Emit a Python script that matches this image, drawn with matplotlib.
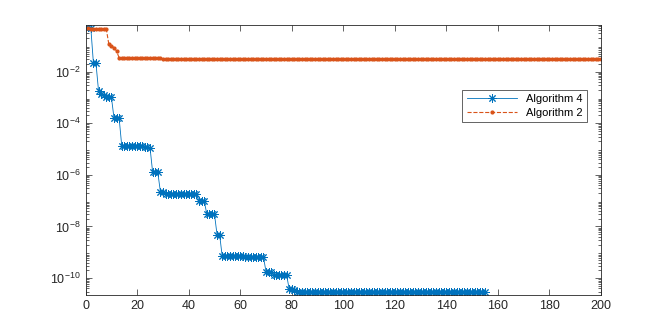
import matplotlib
matplotlib.use("Agg")
import matplotlib.pyplot as plt
from matplotlib.ticker import LogLocator, NullFormatter, FixedLocator

plt.rcParams['font.family'] = ['Liberation Sans', 'DejaVu Sans']

# Algorithm 4 (blue), one value per iteration 1..155
alg4 = ([0.55, 0.5, 0.022, 0.021, 1.8e-3, 1.3e-3, 1.2e-3, 1.05e-3, 1.0e-3, 1.0e-3,
         1.6e-4, 1.6e-4, 1.55e-4]
        + [1.35e-5] * 9 + [1.2e-5, 1.15e-5, 1.1e-5]
        + [1.27e-6, 1.27e-6, 1.25e-6, 2.25e-7, 2.2e-7]
        + [1.8e-7] * 13 + [1.0e-7, 1.0e-7, 1.0e-7]
        + [3.1e-8, 3.1e-8, 3.0e-8, 3.0e-8, 4.8e-9, 4.8e-9]
        + [7e-10] * 9 + [6.6e-10] * 8
        + [1.8e-10, 1.8e-10, 1.75e-10] + [1.35e-10] * 6
        + [3.7e-11, 3.7e-11, 3.6e-11] + [2.78e-11] * 74)
# Algorithm 2 (orange), one value per iteration 1..200
alg2 = ([0.5] + [0.45] * 7 + [0.115, 0.1, 0.085, 0.063]
        + [0.034] * 17 + [0.03] + [0.0315] * 170)

it4 = list(range(1, len(alg4) + 1))
it2 = list(range(1, len(alg2) + 1))

fig = plt.figure(figsize=(6.64, 3.32), dpi=100)
ax = fig.add_axes([0.129, 0.111, 0.776, 0.814])

blue = '#0072BD'
orange = '#D95319'
# matlab-like asterisk marker
ax.plot(it4, alg4, '-', color=blue, marker=(8, 2, 0), markersize=6, linewidth=0.6,
        markeredgewidth=0.7, label='Algorithm 4')
ax.plot(it2, alg2, '--', color=orange, marker='.', markersize=4, linewidth=0.8,
        label='Algorithm 2')

ax.set_yscale('log')
ax.set_xlim(0, 200)
ax.set_ylim(10 ** -10.66, 10 ** -0.19)
ax.set_xticks(range(0, 201, 20))
ax.yaxis.set_major_locator(FixedLocator([1e-10, 1e-8, 1e-6, 1e-4, 1e-2]))
ax.yaxis.set_minor_locator(LogLocator(base=10, subs=range(2, 10), numticks=30))
ax.yaxis.set_minor_formatter(NullFormatter())

axcol = '#262626'
for s in ax.spines.values():
    s.set_color(axcol)
    s.set_linewidth(0.6)
ax.tick_params(which='both', direction='in', top=True, right=True,
               colors=axcol, labelsize=9, width=0.5)
ax.tick_params(which='major', length=4)
ax.tick_params(which='minor', length=2)

leg = ax.legend(loc='upper right', bbox_to_anchor=(0.983, 0.78), fontsize=8,
                frameon=True, fancybox=False, edgecolor=axcol, framealpha=1,
                handlelength=4.5, borderpad=0.4, labelspacing=0.3)
leg.get_frame().set_linewidth(0.5)

fig.savefig('out.png', dpi=100)
